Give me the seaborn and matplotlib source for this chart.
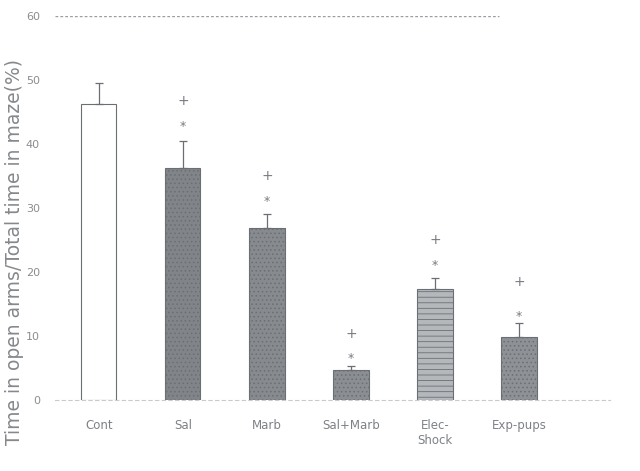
import numpy as np
import pandas as pd
import matplotlib
matplotlib.use("Agg")
import matplotlib.pyplot as plt
import seaborn as sns

# values
groups = ["Cont", "Sal", "Marb", "Sal+Marb", "Elec-\nShock", "Exp-pups"]
means = [46.2, 36.2, 26.9, 4.7, 17.3, 9.8]
errs = [3.3, 4.3, 2.1, 0.6, 1.7, 2.2]
star_y = [None, 42.7, 31.0, 6.4, 21.0, 13.1]
plus_y = [None, 46.7, 35.0, 10.3, 25.0, 18.4]

bar_colors = ["#ffffff", "#80858b", "#868b91", "#8a8f95", "#b4b8bc", "#8d9197"]
hatches = ["", "....", "....", "....", "---", "...."]

df = pd.DataFrame({"group": groups, "value": means})

sns.set_style("white")
plt.rcParams["font.family"] = ["DejaVu Sans"]
plt.rcParams["hatch.color"] = "#5f6368"
plt.rcParams["hatch.linewidth"] = 0.6

fig = plt.figure(figsize=(6.4, 4.71), dpi=100)
ax = fig.add_axes([0.086, 0.151, 0.867, 0.815])

sns.barplot(data=df, x="group", y="value", hue="group", palette=bar_colors,
            width=0.42, legend=False, ax=ax, edgecolor="#6b6f74", linewidth=0.8)
for patch, h in zip(ax.patches, hatches):
    patch.set_hatch(h)

x = np.arange(len(groups))
ax.errorbar(x, means, yerr=[np.zeros(len(errs)), errs], fmt="none",
            ecolor="#6b6f74", elinewidth=0.9, capsize=3, capthick=0.9)

for xi, sy, py in zip(x, star_y, plus_y):
    if sy is not None:
        ax.text(xi, sy, "*", ha="center", va="center", fontsize=9, color="#777b80")
        ax.text(xi, py, "+", ha="center", va="center", fontsize=10, color="#777b80")

ax.axhline(60, xmax=0.8, color="#9a9ea3", lw=1.0, ls=(0, (2, 1.5)))
ax.set_ylim(0, 60)
ax.set_xlim(-0.52, 6.08)
ax.set_yticks([0, 10, 20, 30, 40, 50, 60])
ax.tick_params(axis="y", length=3, color="#b0b3b7", labelsize=8, labelcolor="#8a8d91", pad=8)
ax.tick_params(axis="x", length=0, labelsize=8.5, labelcolor="#7d8186", pad=14)

for side in ["top", "right", "left"]:
    ax.spines[side].set_visible(False)
ax.spines["bottom"].set_color("#c8cacd")
ax.spines["bottom"].set_linestyle((0, (3, 3)))

ax.set_xlabel("")
ax.set_ylabel("Time in open arms/Total time in maze(%)", fontsize=13.5,
              color="#85888c")
ax.yaxis.set_label_coords(-0.056, 0.385)

plt.savefig("out.png", dpi=100)
